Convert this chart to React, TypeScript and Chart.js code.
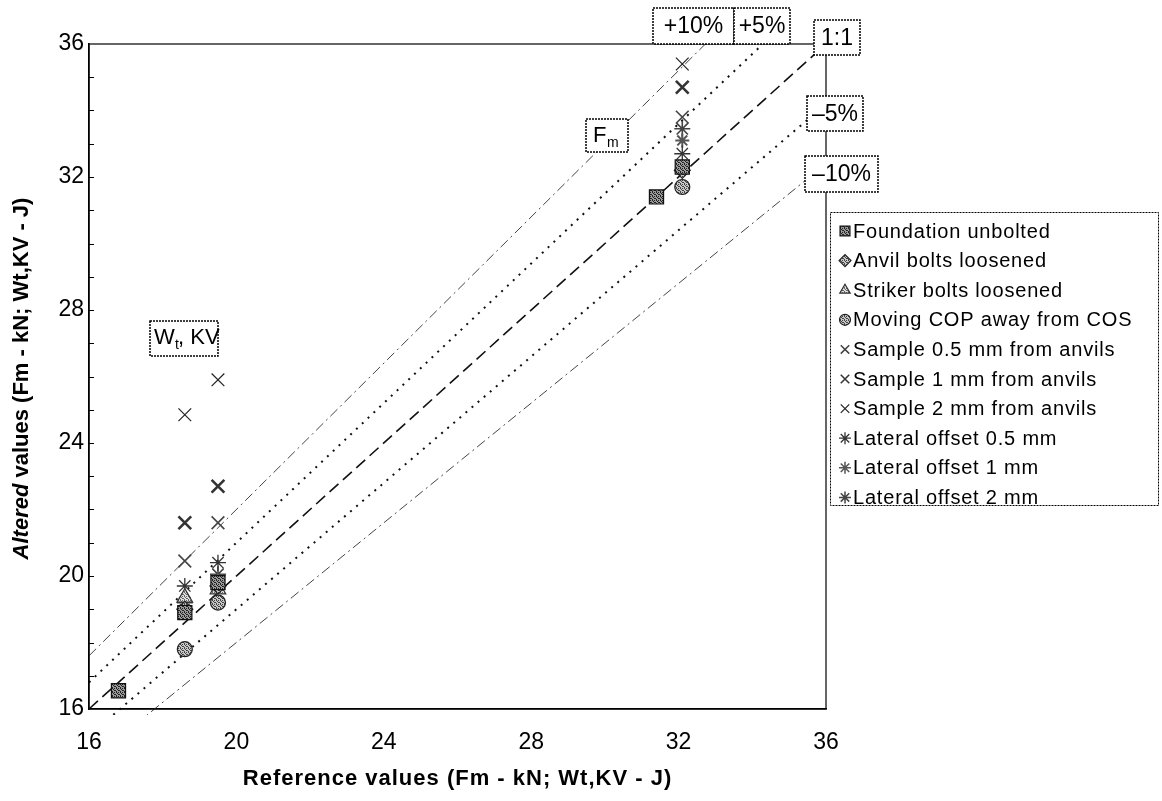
import React, { useEffect, useRef } from "react";
import { Chart, registerables } from "chart.js";
import { drawPoint } from "chart.js/helpers";
Chart.register(...registerables);

const AXIS_MIN = 16;
const AXIS_MAX = 36;
const TICK_STEP = 4;

const seriesLabels = [
  "Foundation unbolted",
  "Anvil bolts loosened",
  "Striker bolts loosened",
  "Moving COP away from COS",
  "Sample 0.5 mm from anvils",
  "Sample 1 mm from anvils",
  "Sample 2 mm from anvils",
  "Lateral offset 0.5 mm",
  "Lateral offset 1 mm",
  "Lateral offset 2 mm",
];

const foundationX = [16.8, 18.6, 19.5, 31.4, 32.1];
const foundationY = [16.55, 18.9, 19.8, 31.4, 32.3];
const anvilX = [18.6, 19.5, 32.1];
const anvilY = [19.0, 19.7, 32.2];
const strikerX = [18.6, 19.5];
const strikerY = [19.35, 19.6];
const copX = [18.6, 19.5, 32.1];
const copY = [17.8, 19.2, 31.7];
const sample05X = [18.6, 19.5, 32.1];
const sample05Y = [20.45, 21.6, 33.8];
const sample1X = [18.6, 19.5, 32.1];
const sample1Y = [21.6, 22.7, 34.7];
const sample2X = [18.6, 19.5, 32.1];
const sample2Y = [24.85, 25.9, 35.4];
const lat05X = [18.6, 19.5, 32.1];
const lat05Y = [19.7, 20.4, 32.7];
const lat1X = [18.6, 19.5, 32.1];
const lat1Y = [19.0, 19.9, 33.1];
const lat2X = [18.6, 19.5, 32.1];
const lat2Y = [19.2, 20.05, 33.45];

const ratioLabels = ["1:1", "+5%", "-5%", "+10%", "-10%"];
const ratioValues = [1, 1.05, 0.95, 1.1, 0.9];

const FONT = "'Liberation Sans', Arial, sans-serif";

function makePattern(dark: string, light: string) {
  const c = document.createElement("canvas");
  c.width = 4;
  c.height = 4;
  const g = c.getContext("2d")!;
  g.fillStyle = light;
  g.fillRect(0, 0, 4, 4);
  g.fillStyle = dark;
  g.fillRect(0, 0, 1, 1);
  g.fillRect(2, 0, 1, 1);
  g.fillRect(1, 1, 1, 1);
  g.fillRect(3, 2, 1, 1);
  g.fillRect(0, 3, 1, 1);
  g.fillRect(2, 2, 1, 1);
  return g.createPattern(c, "repeat")!;
}

function zip(xs: number[], ys: number[]) {
  return xs.map((x, i) => ({ x, y: ys[i] }));
}

function setSpacing(ctx: any, px: number) {
  if ("letterSpacing" in ctx) ctx.letterSpacing = `${px}px`;
}

export default function App() {
  const ref = useRef<HTMLCanvasElement>(null);

  useEffect(() => {
    const canvas = ref.current!;
    const patDark = makePattern("#222", "#9a9a9a");
    const patMid = makePattern("#444", "#c8c8c8");
    const patLight = makePattern("#666", "#e0e0e0");

    const styles = [
      { pointStyle: "rect", radius: 10, legendRadius: 7, bg: patDark, border: "#111", bw: 1.2 },
      { pointStyle: "rectRot", radius: 8, legendRadius: 6, bg: patMid, border: "#222", bw: 1.2 },
      { pointStyle: "triangle", radius: 9, legendRadius: 6, bg: patLight, border: "#333", bw: 1.2 },
      { pointStyle: "circle", radius: 7.5, legendRadius: 5.5, bg: patMid, border: "#222", bw: 1.2 },
      { pointStyle: "crossRot", radius: 9, legendRadius: 6, bg: "#444", border: "#444", bw: 1.6 },
      { pointStyle: "crossRot", radius: 9, legendRadius: 6, bg: "#333", border: "#333", bw: 2.6 },
      { pointStyle: "crossRot", radius: 9, legendRadius: 6, bg: "#222", border: "#222", bw: 1.2 },
      { pointStyle: "star", radius: 8, legendRadius: 6, bg: "#333", border: "#333", bw: 1.3 },
      { pointStyle: "star", radius: 7, legendRadius: 6, bg: "#555", border: "#555", bw: 2 },
      { pointStyle: "star", radius: 8, legendRadius: 6, bg: "#444", border: "#444", bw: 1.6 },
    ];
    const seriesData = [
      zip(foundationX, foundationY),
      zip(anvilX, anvilY),
      zip(strikerX, strikerY),
      zip(copX, copY),
      zip(sample05X, sample05Y),
      zip(sample1X, sample1Y),
      zip(sample2X, sample2Y),
      zip(lat05X, lat05Y),
      zip(lat1X, lat1Y),
      zip(lat2X, lat2Y),
    ];

    const scatterSets = seriesLabels.map((label, i) => ({
      type: "scatter" as const,
      label,
      data: seriesData[i],
      pointStyle: styles[i].pointStyle as any,
      pointRadius: styles[i].radius,
      pointBackgroundColor: styles[i].bg as any,
      pointBorderColor: styles[i].border,
      pointBorderWidth: styles[i].bw,
      showLine: false,
    }));

    const lineStyles: Record<string, { color: string; width: number; dash: number[] }> = {
      "1:1": { color: "#111", width: 1.6, dash: [12, 6] },
      "+5%": { color: "#111", width: 2, dash: [2, 6] },
      "-5%": { color: "#111", width: 2, dash: [2, 6] },
      "+10%": { color: "#444", width: 1, dash: [10, 4, 2, 4] },
      "-10%": { color: "#444", width: 1, dash: [10, 4, 2, 4] },
    };
    const lineSets = ratioLabels.map((label, i) => {
      const r = ratioValues[i];
      const xEnd = Math.min(AXIS_MAX, AXIS_MAX / r);
      const s = lineStyles[label];
      return {
        type: "line" as const,
        label,
        data: [
          { x: AXIS_MIN, y: AXIS_MIN * r },
          { x: xEnd, y: xEnd * r },
        ],
        borderColor: s.color,
        borderWidth: s.width,
        borderDash: s.dash,
        pointRadius: 0,
        fill: false,
        clip: { left: 0, top: 0, right: 0, bottom: 6 } as any,
      };
    });

    const boxes = [
      { text: "+10%", x: 653, y: 8, w: 81, h: 36 },
      { text: "+5%", x: 734, y: 8, w: 56, h: 36 },
      { text: "1:1", x: 814, y: 20, w: 46, h: 35 },
      { text: "\u20135%", x: 807, y: 96, w: 56, h: 35 },
      { text: "\u201310%", x: 805, y: 156, w: 73, h: 36 },
    ];

    const decor = {
      id: "decor",
      afterDraw(chart: any) {
        const { ctx, chartArea: a } = chart;
        const ys = chart.scales.y;
        ctx.save();
        // frame
        ctx.strokeStyle = "#000";
        ctx.lineWidth = 1.2;
        ctx.setLineDash([]);
        ctx.strokeRect(a.left, a.top, a.right - a.left, a.bottom - a.top);
        // inner minor ticks on y
        ctx.lineWidth = 1;
        ctx.beginPath();
        for (let v = AXIS_MIN + 1; v < AXIS_MAX; v++) {
          const py = Math.round(ys.getPixelForValue(v)) + 0.5;
          ctx.moveTo(a.left, py);
          ctx.lineTo(a.left + 5, py);
        }
        ctx.stroke();

        const drawBox = (x: number, y: number, w: number, h: number) => {
          ctx.fillStyle = "#fff";
          ctx.fillRect(x, y, w, h);
          ctx.setLineDash([2, 1]);
          ctx.strokeStyle = "#000";
          ctx.lineWidth = 1.5;
          ctx.strokeRect(x, y, w, h);
          ctx.setLineDash([]);
        };

        // ratio label boxes
        ctx.textBaseline = "middle";
        ctx.textAlign = "center";
        boxes.forEach((b) => {
          drawBox(b.x, b.y, b.w, b.h);
          ctx.fillStyle = "#000";
          ctx.font = `23px ${FONT}`;
          ctx.fillText(b.text, b.x + b.w / 2, b.y + b.h / 2 + 1);
        });

        // F_m box
        drawBox(586, 119, 42, 33);
        ctx.fillStyle = "#000";
        ctx.textAlign = "left";
        ctx.font = `22px ${FONT}`;
        ctx.fillText("F", 593, 136);
        ctx.font = `14px ${FONT}`;
        ctx.fillText("m", 607, 143);

        // W_t, KV box
        drawBox(150, 321, 68, 35);
        ctx.font = `22px ${FONT}`;
        ctx.fillStyle = "#000";
        ctx.fillText("W", 154, 338);
        ctx.font = `14px ${FONT}`;
        ctx.fillText("t", 175, 345);
        ctx.font = `22px ${FONT}`;
        ctx.fillText(", KV", 178, 338);

        // legend
        ctx.setLineDash([2, 1]);
        ctx.lineWidth = 1;
        ctx.strokeStyle = "#000";
        ctx.fillStyle = "#fff";
        ctx.fillRect(830, 212, 328, 293);
        ctx.strokeRect(830.5, 212.5, 328, 293);
        ctx.setLineDash([]);
        seriesLabels.forEach((label, i) => {
          const cy = 231 + i * 29.6;
          const st = styles[i];
          ctx.save();
          ctx.fillStyle = st.bg as any;
          ctx.strokeStyle = st.border;
          ctx.lineWidth = Math.min(st.bw, 1.5);
          drawPoint(
            ctx,
            { pointStyle: st.pointStyle as any, radius: st.legendRadius, rotation: 0, borderWidth: Math.min(st.bw, 1.5) },
            845,
            cy
          );
          ctx.restore();
          ctx.save();
          ctx.font = `20px ${FONT}`;
          ctx.textAlign = "left";
          ctx.textBaseline = "middle";
          setSpacing(ctx, 0.8);
          ctx.fillStyle = "#000";
          ctx.fillText(label, 853, cy + 1);
          ctx.restore();
        });

        // axis titles
        ctx.save();
        ctx.fillStyle = "#000";
        ctx.textBaseline = "middle";
        ctx.font = `bold 22px ${FONT}`;
        ctx.textAlign = "center";
        setSpacing(ctx, 1);
        ctx.fillText("Reference values (Fm - kN; Wt,KV - J)", (a.left + a.right) / 2, 779);
        ctx.restore();

        ctx.save();
        ctx.fillStyle = "#000";
        ctx.textBaseline = "middle";
        ctx.translate(22, (a.top + a.bottom) / 2 + 2);
        ctx.rotate(-Math.PI / 2);
        const p1 = "Altered";
        const p2 = " values (Fm - kN; Wt,KV - J)";
        ctx.font = `italic bold 22px ${FONT}`;
        const w1 = ctx.measureText(p1).width;
        ctx.font = `bold 22px ${FONT}`;
        const w2 = ctx.measureText(p2).width;
        const start = -(w1 + w2) / 2;
        ctx.textAlign = "left";
        ctx.font = `italic bold 22px ${FONT}`;
        ctx.fillText(p1, start, 0);
        ctx.font = `bold 22px ${FONT}`;
        ctx.fillText(p2, start + w1, 0);
        ctx.restore();

        ctx.restore();
      },
    };

    const chart = new Chart(canvas, {
      type: "scatter",
      data: { datasets: [...scatterSets, ...lineSets] as any },
      options: {
        responsive: false,
        animation: false,
        devicePixelRatio: 1,
        layout: { padding: { left: 0, right: 336, top: 44, bottom: 0 } },
        plugins: { legend: { display: false }, tooltip: { enabled: false } },
        scales: {
          x: {
            type: "linear",
            min: AXIS_MIN,
            max: AXIS_MAX,
            afterFit: (s: any) => {
              s.height = 92;
            },
            ticks: {
              stepSize: TICK_STEP,
              color: "#000",
              font: { size: 23, family: FONT },
              padding: 20,
            },
            grid: { display: true, drawOnChartArea: false, drawTicks: false, tickLength: 0 },
            border: { display: true, color: "#000", width: 1.5 },
          },
          y: {
            type: "linear",
            min: AXIS_MIN,
            max: AXIS_MAX,
            afterFit: (s: any) => {
              s.width = 89;
            },
            ticks: {
              stepSize: TICK_STEP,
              color: "#000",
              font: { size: 23, family: FONT },
              padding: 5,
            },
            grid: { display: true, drawOnChartArea: false, drawTicks: false, tickLength: 0 },
            border: { display: true, color: "#000", width: 1.5 },
          },
        },
      },
      plugins: [decor],
    });
    return () => chart.destroy();
  }, []);

  return (
    <div style={{ position: "fixed", left: 0, top: 0, width: 1162, height: 801, background: "#fff" }}>
      <canvas ref={ref} width={1162} height={801} style={{ display: "block" }} />
    </div>
  );
}
